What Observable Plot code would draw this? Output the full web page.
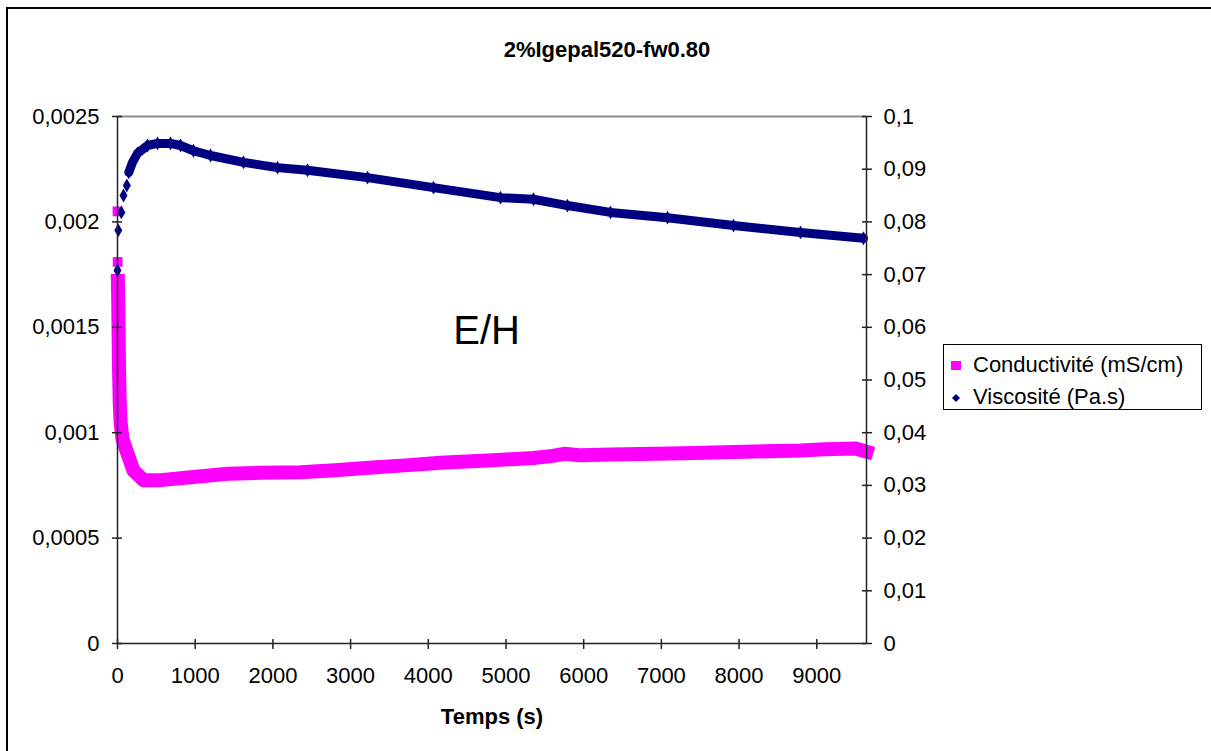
<!DOCTYPE html>
<html><head><meta charset="utf-8">
<script src="https://cdn.jsdelivr.net/npm/d3@7"></script>
<script src="https://cdn.jsdelivr.net/npm/@observablehq/plot@0.6"></script>
<style>
body{margin:0;background:#fff;font-family:"Liberation Sans",Arial,sans-serif;}
#wrap{position:relative;width:1211px;height:751px;overflow:hidden;background:#fff;}
#frame{position:absolute;left:6px;top:7px;width:1400px;height:900px;border-left:2px solid #000;border-top:2px solid #000;pointer-events:none;}
#chart{position:absolute;left:0;top:0;}
#title{position:absolute;left:0;width:1214px;top:38px;text-align:center;font-weight:bold;font-size:22px;line-height:24px;color:#000;}
#legend{position:absolute;left:943px;top:344px;width:257px;height:64px;border:1px solid #000;background:#fff;font-size:22px;color:#000;}
.row{position:absolute;left:0;height:26px;line-height:26px;white-space:nowrap;}
.row svg{position:absolute;left:6px;top:6px;}
.row span{position:absolute;left:29px;top:0;}
</style>
</head><body>
<div id="wrap">
  <div id="chart"></div>
  <div id="title"></div>
  <div id="legend"></div>
  <div id="frame"></div>
</div>
<script>
// ---- data ----
const chartTitle = "2%Igepal520-fw0.80";
const xLabel = "Temps (s)";
const seriesNames = ["Conductivité (mS/cm)", "Viscosité (Pa.s)"];
const seriesColors = ["#ff00ff", "#000080"];
const annotation = "E/H";

const xTicks = [0, 1000, 2000, 3000, 4000, 5000, 6000, 7000, 8000, 9000];
const leftTicks = [0, 0.0005, 0.001, 0.0015, 0.002, 0.0025];
const rightTicks = [0, 0.01, 0.02, 0.03, 0.04, 0.05, 0.06, 0.07, 0.08, 0.09, 0.1];

const condTime  = [0, 2, 5, 10, 15, 20, 28, 40, 64, 129, 206, 335, 553, 978, 1416, 1840, 2355, 2800, 3282, 3700, 4157, 4762, 5354, 5600, 5750, 5950, 6345, 7285, 7928, 8790, 9100, 9500, 9640];
const condValue = [0.00205, 0.00181, 0.00172, 0.0016, 0.00145, 0.0013, 0.00115, 0.00105, 0.00097, 0.0009, 0.00082, 0.000775, 0.000775, 0.00079, 0.000805, 0.00081, 0.000812, 0.000822, 0.000835, 0.000845, 0.000857, 0.000868, 0.00088, 0.00089, 0.0009, 0.000893, 0.000897, 0.000902, 0.000908, 0.000916, 0.000922, 0.000925, 0.00091];

const viscTime  = [0, 10, 50, 77, 120, 145, 193, 257, 386, 515, 682, 811, 978, 1197, 1622, 2059, 2445, 3218, 4067, 4929, 5354, 5791, 6345, 7079, 7928, 8790, 9601];
const viscValue = [0.0708, 0.0784, 0.0818, 0.085, 0.0869, 0.0894, 0.0913, 0.093, 0.0945, 0.0949, 0.0949, 0.0945, 0.0935, 0.0926, 0.0913, 0.0903, 0.0898, 0.0884, 0.0865, 0.0846, 0.0843, 0.0831, 0.0818, 0.0808, 0.0793, 0.078, 0.0769];

const annX = 4750, annY = 0.00148;
const xMax = 9640;

// ---- build ----
const k = leftTicks[leftTicks.length - 1] / rightTicks[rightTicks.length - 1]; // right -> left scale
const fmt = d => String(+(+d).toFixed(6)).replace(".", ",");

const cond = condTime.map((t, i) => ({t, v: condValue[i]}));
const visc = viscTime.map((t, i) => ({t, v: viscValue[i] * k}));
const condLine = cond.slice(2);
const viscLine = visc.slice(5);

const axisStroke = "#222";

const plot = Plot.plot({
  width: 1211, height: 751,
  marginLeft: 117, marginRight: 345, marginTop: 116, marginBottom: 108,
  x: {domain: [0, xMax], label: null},
  y: {domain: [0, leftTicks[leftTicks.length - 1]], label: null},
  style: {fontFamily: "'Liberation Sans', Arial, sans-serif", fontSize: "22px", color: "#000", background: "transparent"},
  marks: [
    Plot.ruleY([leftTicks[leftTicks.length - 1]], {stroke: "#8c8c8c", strokeWidth: 2}),
    Plot.line(condLine, {x: "t", y: "v", stroke: seriesColors[0], strokeWidth: 14, strokeLinejoin: "round", strokeLinecap: "square"}),
    Plot.dot(cond, {x: "t", y: "v", symbol: "square", fill: seriesColors[0], r: 5.5}),
    Plot.line(viscLine, {x: "t", y: "v", stroke: seriesColors[1], strokeWidth: 9, strokeLinejoin: "round", strokeLinecap: "round"}),
    Plot.dot(visc, {x: "t", y: "v", symbol: "diamond", fill: seriesColors[1], r: 4.2}),
    Plot.ruleX([0], {stroke: axisStroke, strokeWidth: 1.5}),
    Plot.ruleX([xMax], {stroke: axisStroke, strokeWidth: 1.5}),
    Plot.ruleY([0], {stroke: axisStroke, strokeWidth: 1.5}),
    Plot.axisY({anchor: "left", ticks: leftTicks, tickSize: 10, dx: 5, text: null, stroke: axisStroke, strokeWidth: 1.5}),
    Plot.axisY({anchor: "left", ticks: leftTicks, tickSize: 0, tickPadding: 18, tickFormat: fmt, label: null}),
    Plot.axisY({anchor: "right", ticks: rightTicks.map(v => v * k), tickSize: 10, dx: -5, text: null, stroke: axisStroke, strokeWidth: 1.5}),
    Plot.axisY({anchor: "right", ticks: rightTicks.map(v => v * k), tickSize: 0, tickPadding: 17, tickFormat: d => fmt(d / k), label: null}),
    Plot.axisX({ticks: xTicks, tickSize: 10, dy: -4, text: null, stroke: axisStroke, strokeWidth: 1.5}),
    Plot.axisX({ticks: xTicks, tickSize: 0, tickPadding: 24, tickFormat: d => String(d), label: null}),
    Plot.text([xLabel], {frameAnchor: "bottom", dy: 80, fontWeight: "bold", fontSize: 22}),
    Plot.text([annotation], {x: () => annX, y: () => annY, text: d => d, fontSize: 40, textAnchor: "middle"})
  ]
});
document.getElementById("chart").appendChild(plot);

document.getElementById("title").textContent = chartTitle;

const legend = document.getElementById("legend");
const symbols = [
  '<svg width="12" height="14"><rect x="1" y="3" width="10" height="9" fill="' + seriesColors[0] + '"/></svg>',
  '<svg width="12" height="14"><path d="M6 4 L10 8 L6 12 L2 8 Z" fill="' + seriesColors[1] + '"/></svg>'
];
seriesNames.forEach((name, i) => {
  const row = document.createElement("div");
  row.className = "row";
  row.style.top = (7 + i * 32) + "px";
  row.innerHTML = symbols[i] + "<span></span>";
  row.querySelector("span").textContent = name;
  legend.appendChild(row);
});
</script>
</body></html>
